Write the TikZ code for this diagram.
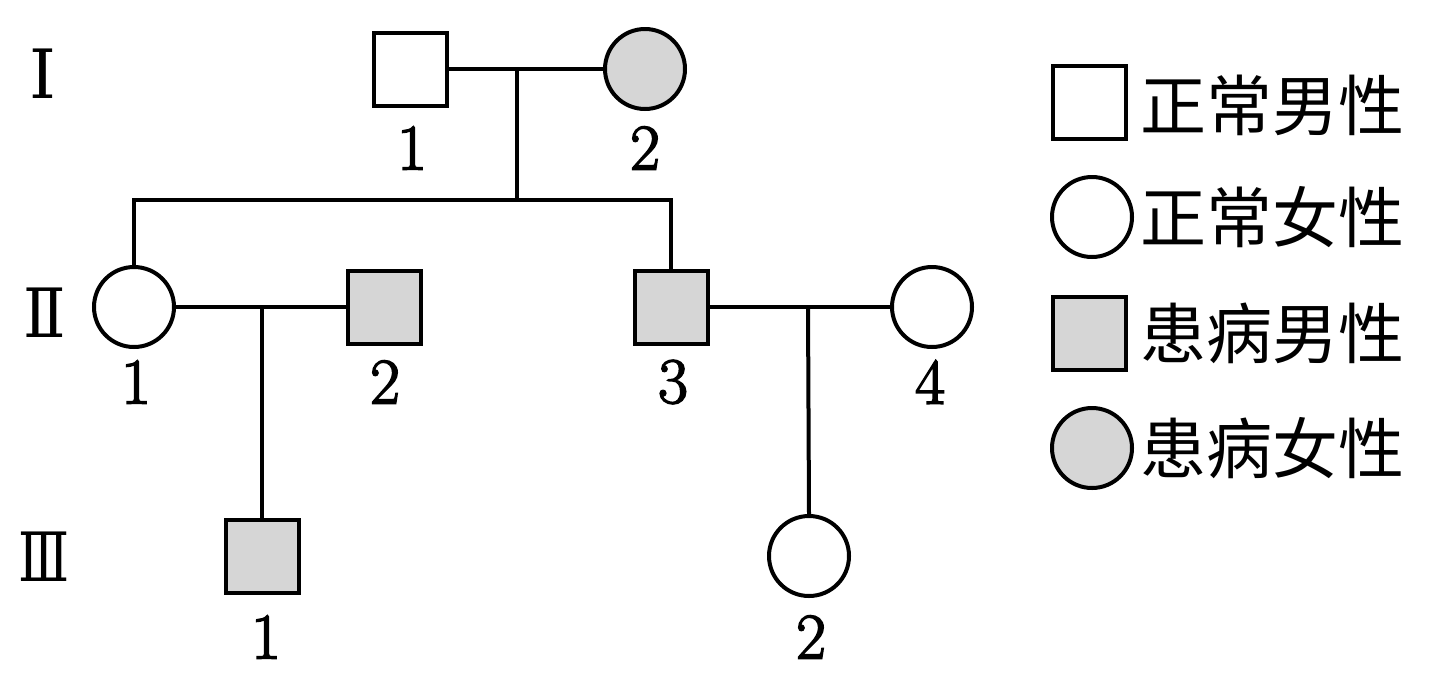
\documentclass[tikz,border=0pt]{standalone}
\usepackage{fontspec}
\newfontfamily\numfont[FakeBold=2.5]{Latin Modern Roman}
\newfontfamily\cjk{Noto Sans CJK SC}
\newfontfamily\romfont{DejaVu Serif}
\begin{document}
\begin{tikzpicture}[x=1pt,y=-1pt,
  pline/.style={line width=4pt},
  male/.style={draw,line width=4pt,rectangle,minimum size=73pt,inner sep=0pt},
  female/.style={draw,line width=4pt,circle,minimum size=80pt,inner sep=0pt},
  ill/.style={fill=black!16},
  num/.style={font=\numfont\fontsize{65}{65}\selectfont,inner sep=0pt},
  gen/.style={font=\romfont\fontsize{68}{68}\selectfont,inner sep=0pt},
  leg/.style={font=\cjk\fontsize{66}{66}\selectfont,inner sep=0pt,anchor=west}]
\useasboundingbox (0,0) rectangle (1440,678);
% generation labels
\node[gen] (g1) at (43,74) {Ⅰ};
\node[gen,xscale=0.92] (g2) at (45,313) {Ⅱ};
\node[gen,xscale=0.78] (g3) at (44,557) {Ⅲ};
% generation I
\node[male] (I1) at (410,69) {};
\node[female,ill] (I2) at (645,69) {};
\node[num] (lI1) at (412,148) {1};
\node[num] (lI2) at (645,148) {2};
% generation II
\node[female] (II1) at (134,307) {};
\node[male,ill] (II2) at (384,307) {};
\node[male,ill] (II3) at (671,307) {};
\node[female] (II4) at (932,307) {};
\node[num] (lII1) at (136,382) {1};
\node[num] (lII2) at (385,382) {2};
\node[num] (lII3) at (673,382) {3};
\node[num] (lII4) at (930,382) {4};
% generation III
\node[male,ill] (III1) at (262,556) {};
\node[female] (III2) at (809,556) {};
\node[num] (lIII1) at (266,637) {1};
\node[num] (lIII2) at (811,637) {2};
% connectors
\coordinate (m1) at (517,69);
\coordinate (s1) at (517,200);
\coordinate (m2) at (262,307);
\coordinate (m3) at (808,307);
\draw[pline] (I1.east) -- (I2.west);
\draw[pline] (m1) -- (s1);
\draw[pline] (II1.north) -- (II1.north |- s1) -- (II3.north |- s1) -- (II3.north);
\draw[pline] (II1.east) -- (II2.west);
\draw[pline] (m2) -- (III1.north);
\draw[pline] (II3.east) -- (II4.west);
\draw[pline] (m3) -- (III2.north);
% legend
\node[male] (k1) at (1089,102) {};
\node[female] (k2) at (1092,217) {};
\node[male,ill] (k3) at (1089,333) {};
\node[female,ill] (k4) at (1092,448) {};
\node[leg] (t1) at (1140,105) {正常男性};
\node[leg] (t2) at (1140,217) {正常女性};
\node[leg] (t3) at (1140,333) {患病男性};
\node[leg] (t4) at (1140,448) {患病女性};
\end{tikzpicture}
\end{document}
